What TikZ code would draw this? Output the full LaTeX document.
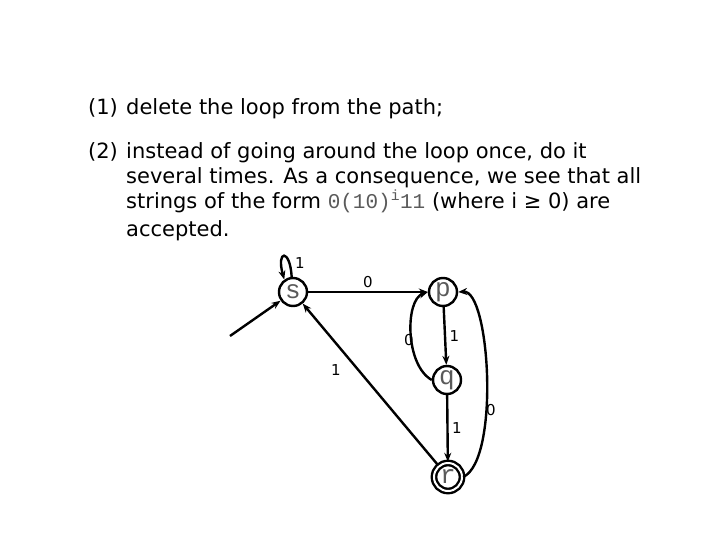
\documentclass[tikz,border=0pt]{standalone}
\usepackage{fontspec}
\setmainfont{DejaVu Sans}
\newfontfamily\mono{Liberation Mono}
\usetikzlibrary{arrows.meta}
\definecolor{gr}{RGB}{90,90,90}
\begin{document}
\begin{tikzpicture}[x=1pt,y=-1pt,
 st/.style={circle,draw,line width=2.4pt,minimum size=28pt,inner sep=0pt,font=\mono\fontsize{26}{26}\selectfont,text=gr},
 acc/.style={st,double,double distance=2pt},
 ed/.style={line width=2.4pt,-{Stealth[length=9pt,width=7pt]}},
 lb/.style={font=\fontsize{15}{15}\selectfont}]
\useasboundingbox (0,0) rectangle (721,541);
\begin{scope}[font=\fontsize{21}{21}\selectfont]
\node[anchor=base west,inner sep=0pt] (l1a) at (88,114) {(1)};
\node[anchor=base west,inner sep=0pt] (l1b) at (126,114) {delete the loop from the path;};
\node[anchor=base west,inner sep=0pt] (l2a) at (88,158) {(2)};
\node[anchor=base west,inner sep=0pt] (l2b) at (126,158) {instead of going around the loop once, do it};
\node[anchor=base west,inner sep=0pt] (l3) at (126,183) {several times. As a consequence, we see that all};
\node[anchor=base west,inner sep=0pt] (l4) at (126,208) {strings of the form {\mono\color{gr}0(10)\textsuperscript{i}11} (where i ≥ 0) are};
\node[anchor=base west,inner sep=0pt] (l5) at (126,236) {accepted.};
\end{scope}
\node[st] (s) at (293,292) {s};
\node[st] (p) at (443,292) {p};
\node[st] (q) at (447,380) {q};
\node[acc] (r) at (448,477) {r};
\coordinate (init) at (230,336);
\draw[ed] (init) -- (s);
\draw[ed] (s.95) .. controls (290,248) and (276,250) .. (s.125);
\node[lb] (l1) at (300,263) {1};
\draw[ed] (s) -- node[lb,above] {0} (p);
\draw[ed] (p) -- node[lb,right] {1} (q);
\draw[ed] (q) -- node[lb,right] {1} (r);
\draw[ed] (q.west) .. controls (405,365) and (405,300) .. (p.west);
\node[lb] (l0a) at (409,340) {0};
\draw[ed] (r.east) .. controls (500,460) and (490,290) .. (p.east);
\node[lb] (l0b) at (491,410) {0};
\draw[ed] (r) -- (s);
\node[lb] (l1s) at (336,370) {1};
\end{tikzpicture}
\end{document}
